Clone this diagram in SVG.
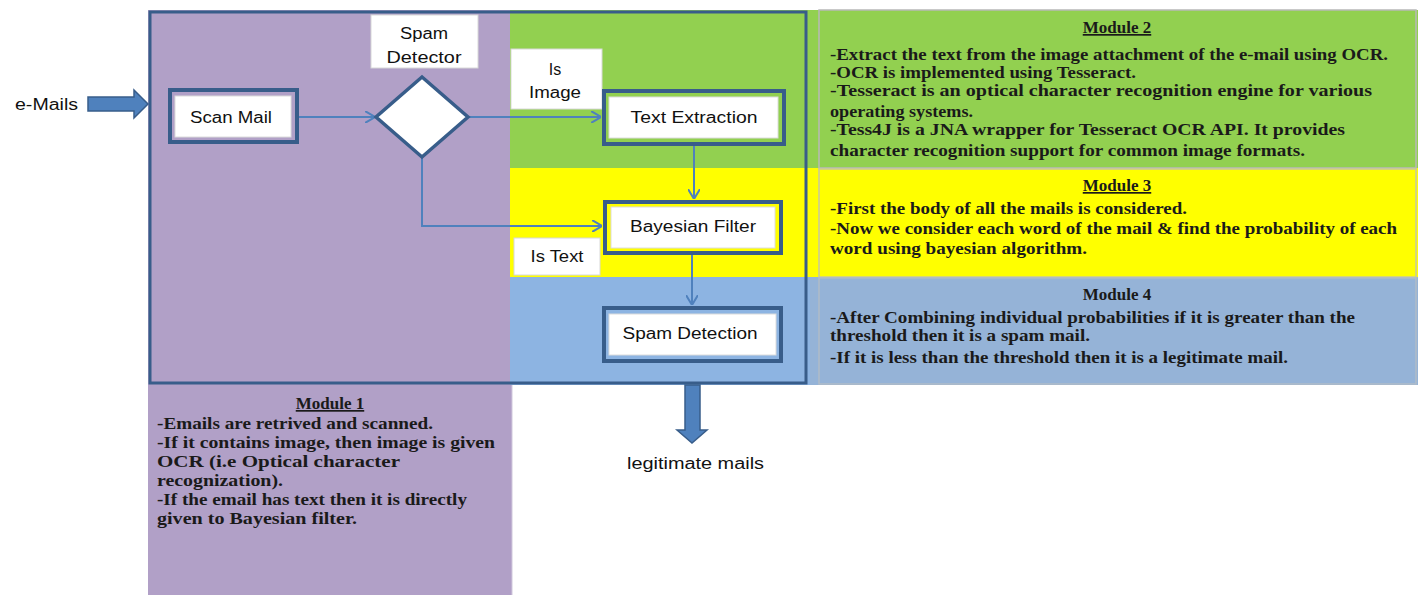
<svg xmlns="http://www.w3.org/2000/svg" width="1419" height="595" viewBox="0 0 1419 595">
<style>
.lbl{font-family:"Liberation Sans",Arial,sans-serif;font-size:16px;fill:#111;}
.mod{font-family:"Liberation Serif","Times New Roman",serif;font-size:17px;font-weight:bold;fill:#1a1a1a;}
.ttl{text-decoration:underline;}
.conn{stroke:#4f81bd;stroke-width:2;fill:none;}
.outer{fill:none;stroke:#385d8a;stroke-width:4;}
.inner{fill:#fff;stroke:#dcdcdc;stroke-width:1;}
.lblbox{fill:#fff;stroke:#d8d8d8;stroke-width:1;}
.block{fill:#4f81bd;stroke:#385d8a;stroke-width:1.5;}
</style>
<defs>
<marker id="open" viewBox="0 0 10 12" refX="10" refY="6" markerWidth="10" markerHeight="12" markerUnits="userSpaceOnUse" orient="auto">
<path d="M0,0 L10,6 L0,12" fill="none" stroke="#4f81bd" stroke-width="2"/>
</marker>
</defs>
<rect width="1419" height="595" fill="#fff"/>
<g id="bands">
<rect x="148" y="10" width="364" height="585" fill="#b1a0c7"/>
<line x1="512" y1="385" x2="512" y2="595" stroke="#d0c8dc" stroke-width="1"/>
<rect x="510" y="10" width="908" height="158" fill="#92d050"/>
<rect x="510" y="168" width="908" height="109" fill="#ffff00"/>
<rect x="510" y="277" width="300" height="108" fill="#8db4e2"/>
<rect x="810" y="277" width="608" height="108" fill="#95b3d7"/>
<rect x="819" y="10" width="597" height="158" fill="none" stroke="#b8b8b8" stroke-width="1.5"/>
<rect x="819" y="169" width="597" height="108" fill="none" stroke="#c8c8a0" stroke-width="1.5"/>
<rect x="819" y="278" width="597" height="106" fill="none" stroke="#b0bcc8" stroke-width="1.5"/>
</g>
<rect id="main-frame" x="150" y="12" width="656" height="371" fill="none" stroke="#385d8a" stroke-width="3"/>
<g id="input">
<polygon class="block" points="88,97 134,97 134,90 148,104 134,118 134,111 88,111"/>
<text class="lbl" x="15" y="110" textLength="63" lengthAdjust="spacingAndGlyphs">e-Mails</text>
</g>
<g id="output">
<polygon class="block" points="685,385 700,385 700,430 707,430 692,443 677,430 685,430"/>
<text class="lbl" x="627" y="469" textLength="137" lengthAdjust="spacingAndGlyphs">legitimate mails</text>
</g>
<g id="connectors">
<line class="conn" x1="299" y1="117" x2="375" y2="117" marker-end="url(#open)"/>
<line class="conn" x1="468" y1="117" x2="601" y2="117" marker-end="url(#open)"/>
<polyline class="conn" points="422,157 422,226 602,226" marker-end="url(#open)"/>
<line class="conn" x1="694" y1="146" x2="694" y2="199" marker-end="url(#open)"/>
<line class="conn" x1="692" y1="255" x2="692" y2="305" marker-end="url(#open)"/>
</g>
<g id="scan-mail">
<rect class="outer" x="170" y="90" width="127" height="52"/>
<rect class="inner" x="175" y="96" width="116" height="41"/>
<text class="lbl" x="190" y="123" textLength="82" lengthAdjust="spacingAndGlyphs">Scan Mail</text>
</g>
<g id="spam-detector">
<polygon points="422,77 468,117 422,157 376,117" fill="#fff" stroke="#385d8a" stroke-width="3.5"/>
<rect class="lblbox" x="371" y="15" width="107" height="53"/>
<text class="lbl" x="424" y="39" text-anchor="middle" textLength="48" lengthAdjust="spacingAndGlyphs">Spam</text>
<text class="lbl" x="424" y="63" text-anchor="middle" textLength="75" lengthAdjust="spacingAndGlyphs">Detector</text>
</g>
<g id="is-image">
<rect class="lblbox" x="511" y="49" width="91" height="60"/>
<text class="lbl" x="555" y="75" text-anchor="middle">Is</text>
<text class="lbl" x="555" y="98" text-anchor="middle" textLength="52" lengthAdjust="spacingAndGlyphs">Image</text>
</g>
<g id="text-extraction">
<rect class="outer" x="604" y="91" width="180" height="53"/>
<rect class="inner" x="609" y="97" width="169" height="41"/>
<text class="lbl" x="694" y="123" text-anchor="middle" textLength="127" lengthAdjust="spacingAndGlyphs">Text Extraction</text>
</g>
<g id="bayesian-filter">
<rect class="outer" x="605" y="202" width="176" height="51"/>
<rect class="inner" x="611" y="207" width="164" height="41"/>
<text class="lbl" x="693" y="232" text-anchor="middle" textLength="126" lengthAdjust="spacingAndGlyphs">Bayesian Filter</text>
</g>
<g id="is-text">
<rect class="lblbox" x="514" y="238" width="86" height="37"/>
<text class="lbl" x="557" y="262" text-anchor="middle" textLength="53" lengthAdjust="spacingAndGlyphs">Is Text</text>
</g>
<g id="spam-detection">
<rect class="outer" x="604" y="308" width="177" height="53"/>
<rect class="inner" x="609" y="314" width="167" height="41"/>
<text class="lbl" x="690" y="339" text-anchor="middle" textLength="135" lengthAdjust="spacingAndGlyphs">Spam Detection</text>
</g>
<g id="module-1">
<text class="mod ttl" x="330" y="409" text-anchor="middle">Module 1</text>
<text class="mod" x="157" y="429" textLength="276" lengthAdjust="spacingAndGlyphs">-Emails are retrived and scanned.</text>
<text class="mod" x="157" y="448" textLength="338" lengthAdjust="spacingAndGlyphs">-If it contains image, then image is given</text>
<text class="mod" x="157" y="467" textLength="243" lengthAdjust="spacingAndGlyphs">OCR (i.e Optical character</text>
<text class="mod" x="157" y="486" textLength="126" lengthAdjust="spacingAndGlyphs">recognization).</text>
<text class="mod" x="157" y="505" textLength="310" lengthAdjust="spacingAndGlyphs">-If the email has text then it is directly</text>
<text class="mod" x="157" y="524" textLength="200" lengthAdjust="spacingAndGlyphs">given to Bayesian filter.</text>
</g>
<g id="module-2">
<text class="mod ttl" x="1117" y="33" text-anchor="middle">Module 2</text>
<text class="mod" x="830" y="60" textLength="558" lengthAdjust="spacingAndGlyphs">-Extract the text from the image attachment of the e-mail using OCR.</text>
<text class="mod" x="830" y="78" textLength="306" lengthAdjust="spacingAndGlyphs">-OCR is implemented using Tesseract.</text>
<text class="mod" x="830" y="96" textLength="542" lengthAdjust="spacingAndGlyphs">-Tesseract is an optical character recognition engine  for various</text>
<text class="mod" x="830" y="117" textLength="143" lengthAdjust="spacingAndGlyphs">operating systems.</text>
<text class="mod" x="830" y="135" textLength="515" lengthAdjust="spacingAndGlyphs">-Tess4J is  a JNA wrapper for Tesseract OCR API. It provides</text>
<text class="mod" x="830" y="156" textLength="475" lengthAdjust="spacingAndGlyphs">character recognition support for common image formats.</text>
</g>
<g id="module-3">
<text class="mod ttl" x="1117" y="191" text-anchor="middle">Module 3</text>
<text class="mod" x="830" y="214" textLength="357" lengthAdjust="spacingAndGlyphs">-First the body of all the mails is considered.</text>
<text class="mod" x="830" y="234" textLength="567" lengthAdjust="spacingAndGlyphs">-Now we consider each word of the mail &amp; find the probability of each</text>
<text class="mod" x="830" y="254" textLength="257" lengthAdjust="spacingAndGlyphs">word using bayesian algorithm.</text>
</g>
<g id="module-4">
<text class="mod" x="1117" y="300" text-anchor="middle">Module 4</text>
<text class="mod" x="830" y="323" textLength="525" lengthAdjust="spacingAndGlyphs">-After Combining individual probabilities if it is greater than  the</text>
<text class="mod" x="830" y="341" textLength="260" lengthAdjust="spacingAndGlyphs">threshold then it is  a spam mail.</text>
<text class="mod" x="830" y="363" textLength="458" lengthAdjust="spacingAndGlyphs">-If it is less than  the threshold then it is a legitimate mail.</text>
</g>
</svg>
